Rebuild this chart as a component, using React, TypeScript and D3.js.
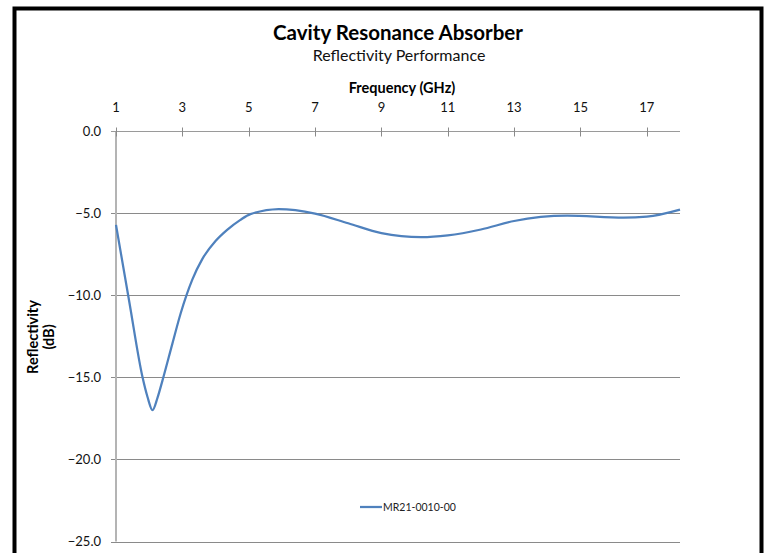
import { useEffect, useRef } from "react"
import * as d3 from "d3"

// Frequency (GHz) and reflectivity (dB)
const frequencies = [
  1, 1.4, 1.8, 1.95, 2.1, 2.25, 2.4, 2.7, 2.95, 3.3, 3.6, 4.0, 4.35, 4.75, 5.05, 5.9, 7, 8, 9, 10.2, 11, 12, 13, 14.6,
  16.3, 17, 18,
]
const reflectivity = [
  -5.72, -10.4, -15.0, -16.2, -17.0, -16.25, -15.2, -12.95, -11.1, -9.05, -7.8, -6.7, -6.02, -5.41, -5.06, -4.76, -5.03,
  -5.62, -6.22, -6.47, -6.36, -6.0, -5.48, -5.16, -5.28, -5.22, -4.79,
]
const xTicks = [1, 3, 5, 7, 9, 11, 13, 15, 17]
const yTicks = [0, -5, -10, -15, -20, -25]
const seriesName = "MR21-0010-00"

const FONT = "Lato, 'Open Sans', sans-serif"

export default function App() {
  const svgRef = useRef<SVGSVGElement>(null)

  useEffect(() => {
    if (!svgRef.current) return
    const svg = d3.select(svgRef.current)
    svg.selectAll("*").remove()

    const width = 767
    const height = 553
    const plot = { left: 116, right: 680, top: 131, bottom: 541.5 }

    svg.append("rect").attr("width", width).attr("height", height).attr("fill", "#fff")

    // chart frame
    svg
      .append("rect")
      .attr("x", 14.5)
      .attr("y", 8.5)
      .attr("width", 747)
      .attr("height", 600)
      .attr("fill", "none")
      .attr("stroke", "#000")
      .attr("stroke-width", 4)

    const x = d3.scaleLinear().domain([1, 18]).range([plot.left, plot.right])
    const y = d3.scaleLinear().domain([0, -25]).range([plot.top, plot.bottom])

    // horizontal gridlines (extend left as tick marks)
    svg
      .append("g")
      .selectAll("line")
      .data(yTicks.filter((d) => d !== 0))
      .enter()
      .append("line")
      .attr("x1", plot.left - 5)
      .attr("x2", plot.right)
      .attr("y1", (d) => Math.round(y(d)) + 0.5)
      .attr("y2", (d) => Math.round(y(d)) + 0.5)
      .attr("stroke", "#8a8a8a")
      .attr("stroke-width", 1)

    // y axis line
    svg
      .append("line")
      .attr("x1", plot.left)
      .attr("x2", plot.left)
      .attr("y1", plot.top)
      .attr("y2", plot.bottom)
      .attr("stroke", "#b4b4b4")
      .attr("stroke-width", 2)

    // top x axis at 0 dB
    const y0 = Math.round(y(0)) + 0.5
    svg
      .append("line")
      .attr("x1", plot.left - 5)
      .attr("x2", plot.right)
      .attr("y1", y0)
      .attr("y2", y0)
      .attr("stroke", "#9a9a9a")
      .attr("stroke-width", 1)

    svg
      .append("g")
      .selectAll("line")
      .data(xTicks)
      .enter()
      .append("line")
      .attr("x1", (d) => Math.round(x(d)) + 0.5)
      .attr("x2", (d) => Math.round(x(d)) + 0.5)
      .attr("y1", y0 - 4)
      .attr("y2", y0 + 5)
      .attr("stroke", "#8a8a8a")

    // tick labels
    svg
      .append("g")
      .selectAll("text")
      .data(xTicks)
      .enter()
      .append("text")
      .attr("x", (d) => x(d))
      .attr("y", 112)
      .attr("text-anchor", "middle")
      .style("font-family", FONT)
      .style("font-size", "13px")
      .attr("fill", "#111")
      .text((d) => d)

    svg
      .append("g")
      .selectAll("text")
      .data(yTicks)
      .enter()
      .append("text")
      .attr("x", 101)
      .attr("y", (d) => y(d) + 4.5)
      .attr("text-anchor", "end")
      .style("font-family", FONT)
      .style("font-size", "13px")
      .attr("fill", "#111")
      .text((d) => d3.format(".1f")(d))

    // titles
    svg
      .append("text")
      .attr("x", 398)
      .attr("y", 40)
      .attr("text-anchor", "middle")
      .style("font-family", FONT)
      .style("font-size", "20.5px")
      .style("font-weight", "bold")
      .attr("fill", "#000")
      .text("Cavity Resonance Absorber")

    svg
      .append("text")
      .attr("x", 399)
      .attr("y", 61)
      .attr("text-anchor", "middle")
      .style("font-family", FONT)
      .style("font-size", "16px")
      .attr("fill", "#111")
      .text("Reflectivity  Performance")

    svg
      .append("text")
      .attr("x", 402)
      .attr("y", 93)
      .attr("text-anchor", "middle")
      .style("font-family", FONT)
      .style("font-size", "14.5px")
      .style("font-weight", "bold")
      .attr("fill", "#000")
      .text("Frequency (GHz)")

    const yTitle = svg
      .append("text")
      .attr("transform", "translate(0,337) rotate(-90)")
      .attr("text-anchor", "middle")
      .style("font-family", FONT)
      .style("font-size", "14.5px")
      .style("font-weight", "bold")
      .attr("fill", "#000")
    yTitle.append("tspan").attr("x", 0).attr("y", 38).text("Reflectivity")
    yTitle.append("tspan").attr("x", 0).attr("y", 54).text("(dB)")

    // series
    const line = d3
      .line<number>()
      .x((d, i) => x(frequencies[i]))
      .y((d) => y(d))
      .curve(d3.curveMonotoneX)

    svg
      .append("path")
      .datum(reflectivity)
      .attr("fill", "none")
      .attr("stroke", "#4f81bd")
      .attr("stroke-width", 2.25)
      .attr("stroke-linejoin", "round")
      .attr("d", line)

    // legend
    svg
      .append("line")
      .attr("x1", 360)
      .attr("x2", 382)
      .attr("y1", 507)
      .attr("y2", 507)
      .attr("stroke", "#4f81bd")
      .attr("stroke-width", 2.25)

    svg
      .append("text")
      .attr("x", 383)
      .attr("y", 511)
      .style("font-family", FONT)
      .style("font-size", "10.5px")
      .attr("fill", "#222")
      .text(seriesName)
  }, [])

  return (
    <svg
      ref={svgRef}
      width={767}
      height={553}
      style={{ position: "fixed", left: 0, top: 0, display: "block" }}
    ></svg>
  )
}
